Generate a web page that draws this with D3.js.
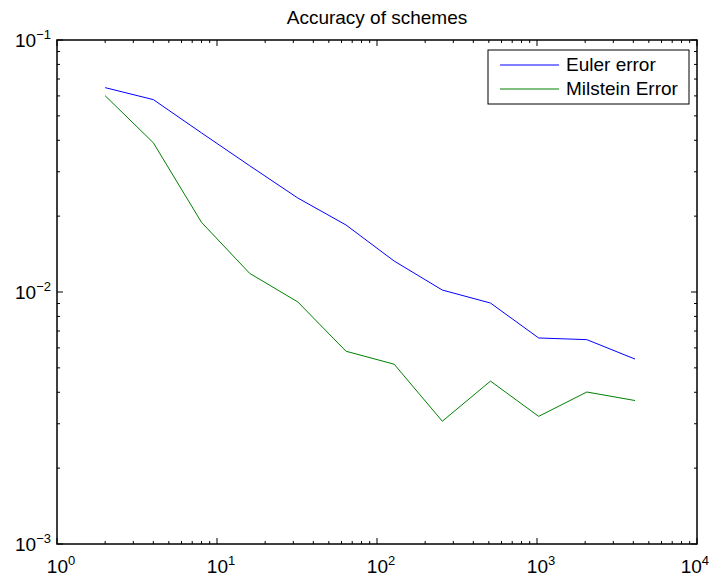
<!DOCTYPE html>
<html>
<head>
<meta charset="utf-8">
<script src="https://cdn.jsdelivr.net/npm/d3@7"></script>
<style>
  body { margin: 0; background: #fff; }
  text { font-family: "Liberation Sans", Arial, sans-serif; fill: #000; }
</style>
</head>
<body>
<div id="chart"></div>
<script>
// step counts (x) and errors
let steps = [2, 4, 8, 16, 32, 64, 128, 256, 512, 1024, 2048, 4096];
let eulerErr = [0.0647, 0.058, 0.0428, 0.0317, 0.0236, 0.01845, 0.01327, 0.01018, 0.00904, 0.00657, 0.00647, 0.00542];
let milsteinErr = [0.0601, 0.0391, 0.0189, 0.01186, 0.00913, 0.00582, 0.00517, 0.00307, 0.00443, 0.00321, 0.00401, 0.00371];
let seriesNames = ["Euler error", "Milstein Error"];
let seriesColors = ["#0000ff", "#008000"];
let xDecades = [0, 1, 2, 3, 4];
let yDecades = [-1, -2, -3];

let margin = {top: 40, right: 13, bottom: 34, left: 57},
  width = 710 - margin.left - margin.right,
  height = 578 - margin.top - margin.bottom;

let svg = d3.select("#chart")
  .append("svg")
  .attr("width", 710)
  .attr("height", 578);

let g = svg.append("g")
  .attr("transform", "translate(" + margin.left + "," + margin.top + ")");

let x = d3.scaleLog().domain([1, 1e4]).range([0, width]);
let y = d3.scaleLog().domain([1e-3, 1e-1]).range([height, 0]);

// minor ticks 2..9 for each decade
function minorTicks(lo, hi) {
  let t = [];
  for (let e = lo; e < hi; e++) {
    for (let m = 2; m <= 9; m++) t.push(m * Math.pow(10, e));
  }
  return t;
}
let xMinor = minorTicks(0, 4);
let yMinor = minorTicks(-3, -1);

function ticks(vals, len, scale, horizontal) {
  vals.forEach(v => {
    let p = scale(v);
    if (horizontal) {
      g.append("line").attr("x1", p).attr("x2", p).attr("y1", height).attr("y2", height - len)
        .attr("stroke", "#000");
      g.append("line").attr("x1", p).attr("x2", p).attr("y1", 0).attr("y2", len)
        .attr("stroke", "#000");
    } else {
      g.append("line").attr("x1", 0).attr("x2", len).attr("y1", p).attr("y2", p)
        .attr("stroke", "#000");
      g.append("line").attr("x1", width).attr("x2", width - len).attr("y1", p).attr("y2", p)
        .attr("stroke", "#000");
    }
  });
}
ticks(xMinor, 3, x, true);
ticks(xDecades.map(d => Math.pow(10, d)), 6, x, true);
ticks(yMinor, 3, y, false);
ticks(yDecades.map(d => Math.pow(10, d)), 6, y, false);

// lines
let line = d3.line()
  .x((d, i) => x(steps[i]))
  .y(d => y(d));

[eulerErr, milsteinErr].forEach((s, i) => {
  g.append("path")
    .datum(s)
    .attr("d", line)
    .attr("fill", "none")
    .attr("stroke", seriesColors[i])
    .attr("stroke-width", 1);
});

// axes box
g.append("rect")
  .attr("width", width).attr("height", height)
  .attr("fill", "none").attr("stroke", "#000").attr("stroke-width", 1.5);

// tick labels: 10^n
function powLabel(px, py, exp, anchor) {
  let t = g.append("text")
    .attr("x", px).attr("y", py)
    .attr("text-anchor", anchor)
    .style("font-size", "19px");
  t.append("tspan").text("10");
  t.append("tspan")
    .attr("dy", "-0.6em")
    .style("font-size", "13px")
    .text(String(exp).replace("-", "\u2212"));
  return t;
}
xDecades.forEach((d, i) => {
  if (i == xDecades.length - 1) {
    powLabel(709 - margin.left, height + 29, d, "end");
  } else {
    powLabel(x(Math.pow(10, d)) + 4, height + 29, d, "middle");
  }
});
yDecades.forEach(d => {
  powLabel(-6, y(Math.pow(10, d)) + 7, d, "end");
});

// title
g.append("text")
  .attr("x", width / 2 + 56 - margin.left + 1).attr("y", -16)
  .attr("text-anchor", "middle")
  .style("font-size", "19px")
  .text("Accuracy of schemes");

// legend
let lg = g.append("g").attr("transform", "translate(" + (488 - margin.left) + "," + (50 - margin.top) + ")");
lg.append("rect").attr("width", 201).attr("height", 54)
  .attr("fill", "#fff").attr("stroke", "#000").attr("stroke-width", 1);
seriesNames.forEach((name, i) => {
  let ly = 15 + i * 24;
  lg.append("line").attr("x1", 12).attr("x2", 71).attr("y1", ly).attr("y2", ly)
    .attr("stroke", seriesColors[i]).attr("stroke-width", 1);
  lg.append("text").attr("x", 78).attr("y", ly + 6)
    .style("font-size", "19px")
    .text(name);
});
</script>
</body>
</html>
